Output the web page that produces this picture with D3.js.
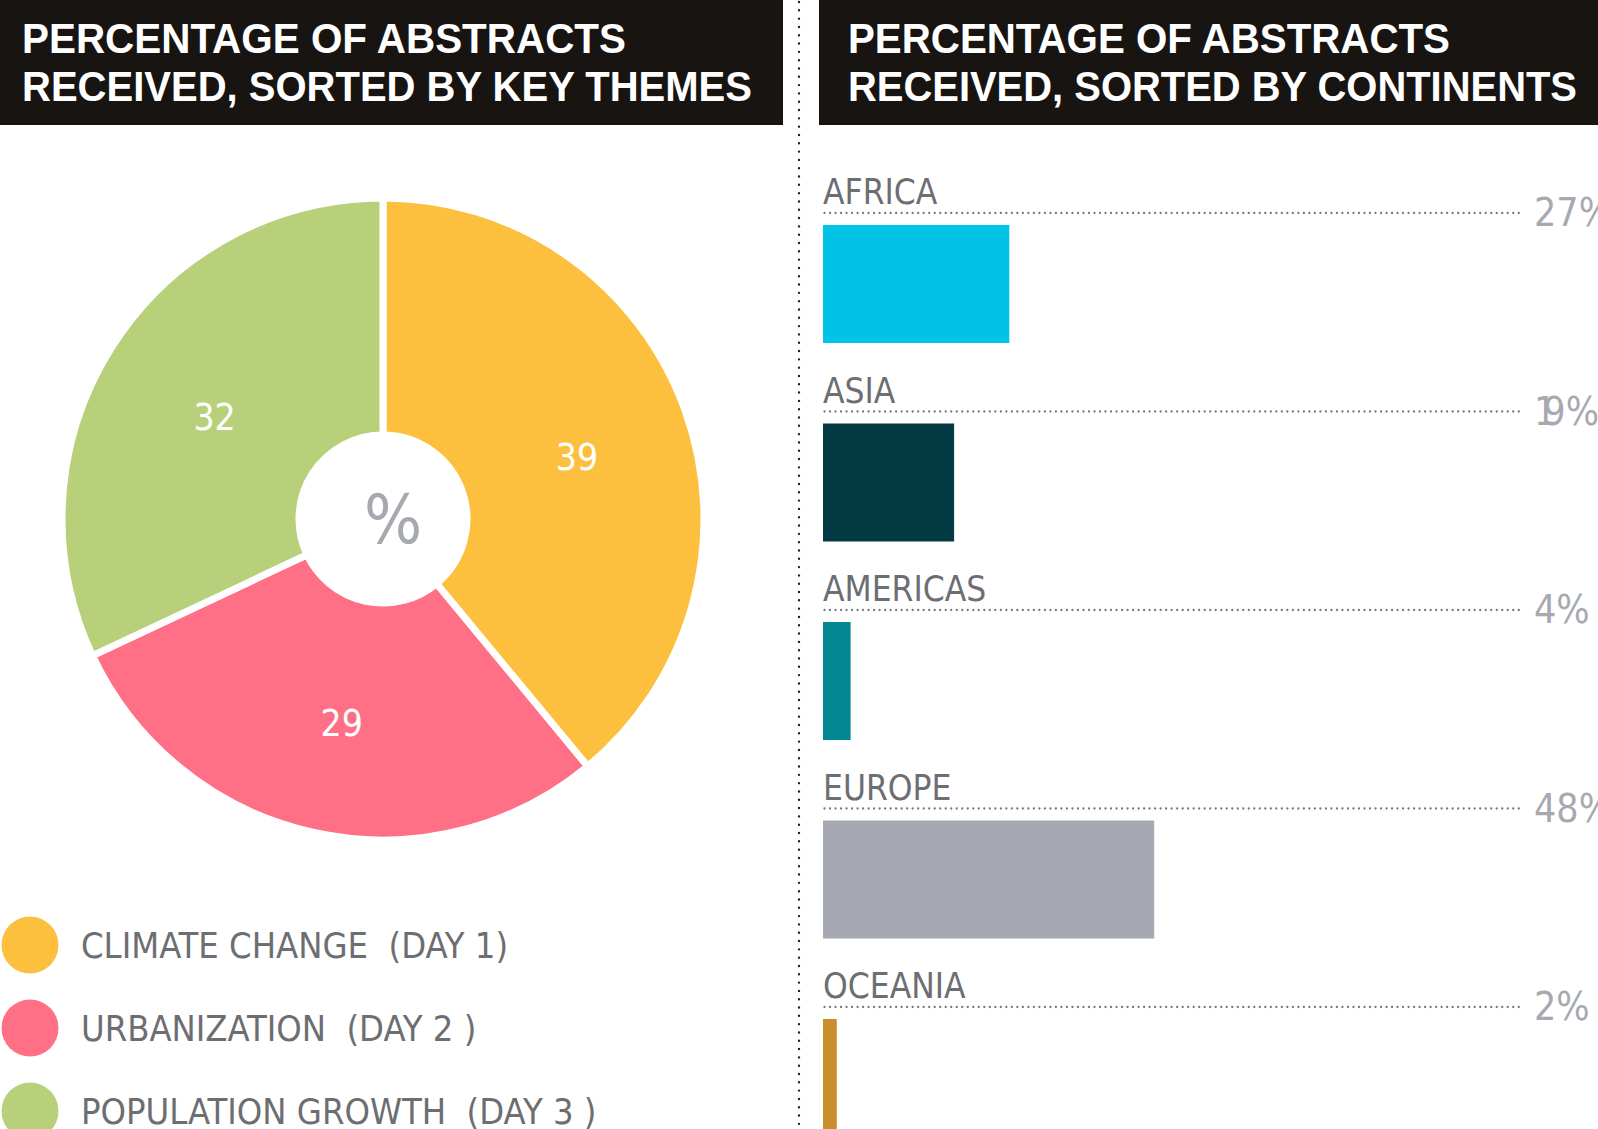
<!DOCTYPE html>
<html>
<head>
<meta charset="utf-8">
<script src="https://cdn.jsdelivr.net/npm/d3@7"></script>
<style>
  body { margin: 0; background: #fff; overflow: hidden; }
  svg { display: block; }
</style>
</head>
<body>
<svg id="chart" width="1598" height="1129"></svg>
<script>
// key themes (pie)
const themes = ["CLIMATE CHANGE", "URBANIZATION", "POPULATION GROWTH"];
const themeDays = ["(DAY 1)", "(DAY 2 )", "(DAY 3 )"];
const themeValues = [39, 29, 32];
const themeColors = ["#fdbf3e", "#ff6f85", "#b8d07a"];

// continents (bars)
const continents = ["AFRICA", "ASIA", "AMERICAS", "EUROPE", "OCEANIA"];
const continentValues = [27, 19, 4, 48, 2];
const continentColors = ["#00c3e6", "#023b44", "#038793", "#a6a9b1", "#c98f2c"];

const titleLeft = ["PERCENTAGE OF ABSTRACTS", "RECEIVED, SORTED BY KEY THEMES"];
const titleRight = ["PERCENTAGE OF ABSTRACTS", "RECEIVED, SORTED BY CONTINENTS"];

const svg = d3.select("#chart");
const condensed = "'DejaVu Sans Condensed', 'DejaVu Sans', sans-serif";

// headers
const drawHeader = (x0, x1, lines, widths) => {
  svg.append("rect")
      .attr("x", x0).attr("y", 0)
      .attr("width", x1 - x0).attr("height", 125)
      .attr("fill", "#181411");
  svg.append("g")
    .selectAll("text")
    .data(lines)
    .join("text")
      .attr("x", x0 + 29)
      .attr("y", (d, i) => 53 + i * 48)
      .attr("fill", "#fff")
      .attr("font-family", "'Liberation Sans', Arial, sans-serif")
      .attr("font-weight", 700)
      .attr("font-size", 43)
      .attr("textLength", (d, i) => widths[i])
      .attr("lengthAdjust", "spacingAndGlyphs")
      .text(d => d);
};
drawHeader(-7, 783, titleLeft, [604, 730]);
drawHeader(819, 1605, titleRight, [602, 729]);

// divider
svg.append("line")
    .attr("x1", 799).attr("x2", 799)
    .attr("y1", 2).attr("y2", 1129)
    .attr("stroke", "#222")
    .attr("stroke-width", 2.4)
    .attr("stroke-linecap", "round")
    .attr("stroke-dasharray", "0.01,8.3");

// pie
const cx = 383, cy = 519;
const pie = d3.pie().sort(null).value(d => d);
const arcs = pie(themeValues);
const arc = d3.arc().innerRadius(84).outerRadius(321);
const labelArc = d3.arc().innerRadius(203).outerRadius(203);

const pieG = svg.append("g").attr("transform", `translate(${cx},${cy})`);

pieG.selectAll("path")
  .data(arcs)
  .join("path")
    .attr("d", arc)
    .attr("fill", (d, i) => themeColors[i])
    .attr("stroke", "#fff")
    .attr("stroke-width", 7)
    .attr("stroke-linejoin", "miter");

pieG.selectAll("text.val")
  .data(arcs)
  .join("text")
    .attr("class", "val")
    .attr("transform", d => {
      const [px, py] = labelArc.centroid(d);
      return `translate(${px + 3},${py + 6})`;
    })
    .attr("text-anchor", "middle")
    .attr("dy", "0.36em")
    .attr("fill", "#fff")
    .attr("font-family", condensed)
    .attr("font-size", 37)
    .text(d => d.data);

pieG.append("text")
    .attr("x", 10)
    .attr("y", 24)
    .attr("text-anchor", "middle")
    .attr("fill", "#a7a9b0")
    .attr("font-family", condensed)
    .attr("font-size", 68)
    .text("%");

// legend
const legendY = d3.scalePoint().domain(themes).range([945, 1111]);
const legend = svg.append("g")
  .selectAll("g")
  .data(themes)
  .join("g")
    .attr("transform", d => `translate(0,${legendY(d)})`);

legend.append("circle")
    .attr("cx", 30)
    .attr("r", 28.5)
    .attr("fill", (d, i) => themeColors[i]);

legend.append("text")
    .attr("x", 81)
    .attr("dy", "0.36em")
    .attr("fill", "#6d6e71")
    .attr("font-family", condensed)
    .attr("font-size", 36)
    .style("white-space", "pre")
    .text((d, i) => d + "  " + themeDays[i]);

// bars
const x = d3.scaleLinear().domain([0, 100]).range([823, 1513]);
const y = d3.scalePoint().domain(continents).range([225, 225 + 4 * 198.5]);
const barH = 118;

const rows = svg.append("g")
  .selectAll("g")
  .data(continents)
  .join("g")
    .attr("transform", d => `translate(0,${y(d)})`);

rows.append("rect")
    .attr("x", x(0))
    .attr("y", 0)
    .attr("width", (d, i) => x(continentValues[i]) - x(0))
    .attr("height", barH)
    .attr("fill", (d, i) => continentColors[i]);

rows.append("line")
    .attr("x1", x(0) + 1.5)
    .attr("x2", 1520)
    .attr("y1", -12)
    .attr("y2", -12)
    .attr("stroke", "#77787b")
    .attr("stroke-width", 2.3)
    .attr("stroke-linecap", "round")
    .attr("stroke-dasharray", "0.01,5.5");

rows.append("text")
    .attr("x", x(0))
    .attr("y", -21)
    .attr("fill", "#6d6e71")
    .attr("font-family", condensed)
    .attr("font-size", 35)
    .text(d => d);

const pct = rows.append("text")
    .attr("x", 1534)
    .attr("y", 1)
    .attr("fill", "#a7a9b0")
    .attr("font-family", condensed)
    .attr("font-size", 39);

pct.each(function(d, i) {
  const s = continentValues[i] + "%";
  const t = d3.select(this);
  // the source squeezes a leading "1" under the next digit
  if (s[0] === "1" && s.length > 2) {
    t.append("tspan").text("1");
    t.append("tspan").attr("dx", -13).text(s.slice(1));
  } else {
    t.text(s);
  }
});
</script>
</body>
</html>
